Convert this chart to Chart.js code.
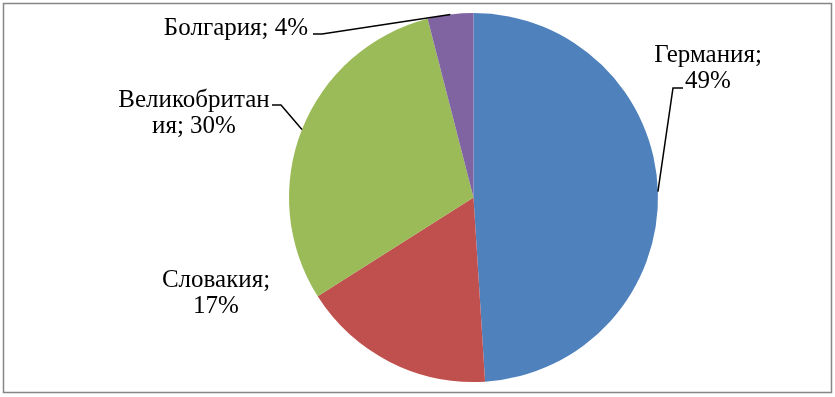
<!DOCTYPE html>
<html>
<head>
<meta charset="utf-8">
<script src="https://cdn.jsdelivr.net/npm/chart.js@4"></script>
<style>
	html, body { margin: 0; padding: 0; background: #fff; }
	#wrap { width: 835px; height: 397px; }
</style>
</head>
<body>
<div id="wrap"><canvas id="myChart" width="835" height="397"></canvas></div>
<script>
var countries = ["Германия", "Словакия", "Великобритания", "Болгария"];
var shares = [49, 17, 30, 4];
var sliceColors = ["#4F81BD", "#C0504D", "#9BBB59", "#8064A2"];
// how excel wrapped the data labels
var labelLines = [
	["Германия;", "49%"],
	["Словакия;", "17%"],
	["Великобритан", "ия; 30%"],
	["Болгария; 4%"]
];

//label placement (center x, first baseline) and leader elbow, per slice
var labelSpots = [
	{x: 708, y: 62, elbow: [673, 88], tail: [683, 88]},
	{x: 216, y: 287, elbow: null},
	{x: 194, y: 107, elbow: [281, 105], tail: [272, 105]},
	{x: 236, y: 35, elbow: [322, 34], tail: [313, 34]}
];

var frame = {
	id: "frame",
	beforeDraw: function(chart){
		var ctx = chart.ctx;
		ctx.save();
		ctx.fillStyle = "#fff";
		ctx.fillRect(0, 0, chart.width, chart.height);
		ctx.strokeStyle = "#868686";
		ctx.lineWidth = 1.5;
		ctx.strokeRect(3.5, 3.5, 828, 389);
		ctx.restore();
	}
};

var dataLabels = {
	id: "dataLabels",
	afterDatasetsDraw: function(chart){
		var ctx = chart.ctx;
		var arcs = chart.getDatasetMeta(0).data;
		ctx.save();
		ctx.font = "25px 'Liberation Serif', 'Times New Roman', serif";
		ctx.fillStyle = "#000";
		ctx.textAlign = "center";
		ctx.textBaseline = "alphabetic";
		ctx.strokeStyle = "#000";
		ctx.lineWidth = 1.5;

		for (var i = 0; i < arcs.length; i++){
			var arc = arcs[i];
			var spot = labelSpots[i];
			var mid = (arc.startAngle + arc.endAngle) / 2;
			var px = arc.x + Math.cos(mid) * arc.outerRadius;
			var py = arc.y + Math.sin(mid) * arc.outerRadius;

			if (spot.elbow){
				ctx.beginPath();
				ctx.moveTo(px, py);
				ctx.lineTo(spot.elbow[0], spot.elbow[1]);
				ctx.lineTo(spot.tail[0], spot.tail[1]);
				ctx.stroke();
			}

			var lines = labelLines[i];
			for (var j = 0; j < lines.length; j++){
				ctx.fillText(lines[j], spot.x, spot.y + j * 26);
			}
		}
		ctx.restore();
	}
};

var ctx = document.getElementById("myChart").getContext("2d");
var myChart = new Chart(ctx, {
	type: "pie",
	data: {
		labels: countries,
		datasets: [{
			data: shares,
			backgroundColor: sliceColors,
			borderWidth: 0
		}]
	},
	options: {
		responsive: false,
		animation: false,
		layout: {padding: {left: 289, right: 177, top: 13, bottom: 15}},
		plugins: {
			legend: {display: false},
			tooltip: {enabled: false}
		}
	},
	plugins: [frame, dataLabels]
});
</script>
</body>
</html>
